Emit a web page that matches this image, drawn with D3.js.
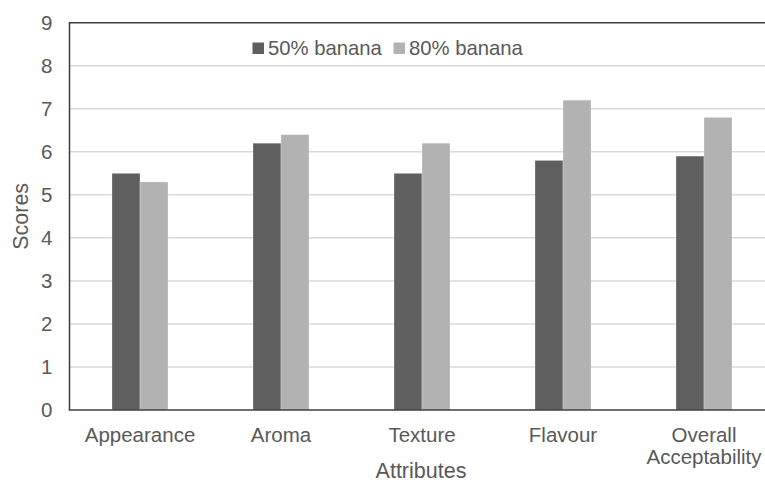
<!DOCTYPE html>
<html>
<head>
<meta charset="utf-8">
<script src="https://cdn.jsdelivr.net/npm/d3@7"></script>
<style>
  html, body { margin: 0; padding: 0; background: #fff; }
  svg { display: block; }
  text { font-family: "Liberation Sans", Arial, sans-serif; fill: #595959; }
</style>
</head>
<body>
<svg id="chart" width="765" height="483"></svg>
<script>
// Sensory scores for the two banana formulations
const categories = ["Appearance", "Aroma", "Texture", "Flavour", "Overall Acceptability"];
const seriesNames = ["50% banana", "80% banana"];
const banana50 = [5.5, 6.2, 5.5, 5.8, 5.9];
const banana80 = [5.3, 6.4, 6.2, 7.2, 6.8];
const yTicks = [0, 1, 2, 3, 4, 5, 6, 7, 8, 9];
const colors = ["#5f5f5f", "#b2b2b2"];

const svg = d3.select("#chart");
const plotLeft = 69.5, plotRight = 774.5, plotTop = 22.7, plotBottom = 410;

const x0 = d3.scaleBand().domain(categories).range([plotLeft, plotRight]).padding(0);
const x1 = d3.scaleBand().domain(seriesNames)
  .range([x0.bandwidth() / 2 - 28, x0.bandwidth() / 2 + 28]).padding(0);
const y = d3.scaleLinear().domain([0, 9]).range([plotBottom, plotTop]);

// horizontal gridlines
svg.append("g")
  .selectAll("line")
  .data(yTicks.filter(t => t > 0 && t < 9))
  .join("line")
  .attr("x1", plotLeft).attr("x2", plotRight)
  .attr("y1", d => y(d)).attr("y2", d => y(d))
  .attr("stroke", "#d9d9d9").attr("stroke-width", 1.5);

// bars
const rows = categories.map((c, i) => ({ cat: c, vals: [banana50[i], banana80[i]] }));
svg.append("g")
  .selectAll("g")
  .data(rows)
  .join("g")
  .attr("transform", d => `translate(${x0(d.cat)},0)`)
  .selectAll("rect")
  .data(d => d.vals.map((v, j) => ({ key: seriesNames[j], v, j })))
  .join("rect")
  .attr("x", d => x1(d.key))
  .attr("width", x1.bandwidth())
  .attr("y", d => y(d.v))
  .attr("height", d => y(0) - y(d.v))
  .attr("fill", d => colors[d.j])
  .attr("stroke", "#ffffff").attr("stroke-opacity", 0.35).attr("stroke-width", 0.8);

// frame lines: left, bottom and top
const frame = svg.append("g").attr("stroke", "#3f3f3f").attr("stroke-width", 1.5);
frame.append("line").attr("x1", plotLeft).attr("x2", plotLeft).attr("y1", plotTop).attr("y2", plotBottom);
frame.append("line").attr("x1", plotLeft - 0.75).attr("x2", plotRight).attr("y1", plotBottom).attr("y2", plotBottom);
frame.append("line").attr("x1", plotLeft - 0.75).attr("x2", plotRight).attr("y1", plotTop).attr("y2", plotTop);

// y axis labels
const yAxis = svg.append("g")
  .attr("transform", `translate(${plotLeft},0)`)
  .call(d3.axisLeft(y).tickValues(yTicks).tickSize(0).tickPadding(17).tickFormat(d3.format("d")));
yAxis.select(".domain").remove();
yAxis.selectAll("text")
  .attr("font-size", 20.5).attr("fill", "#595959")
  .attr("font-family", "Liberation Sans, Arial, sans-serif");

// x axis labels (wrapped onto lines of words)
const xAxis = svg.append("g")
  .attr("transform", `translate(0,${plotBottom})`)
  .call(d3.axisBottom(x0).tickSize(0).tickPadding(0).tickFormat(""));
xAxis.select(".domain").remove();
xAxis.selectAll(".tick").each(function (d) {
  const words = d.split(" ");
  const t = d3.select(this).append("text")
    .attr("text-anchor", "middle")
    .attr("font-size", 20.5)
    .attr("fill", "#595959")
    .attr("font-family", "Liberation Sans, Arial, sans-serif");
  words.forEach((w, i) => {
    t.append("tspan").attr("x", 0).attr("y", 32 + i * 22).text(w);
  });
});

// axis titles
svg.append("text")
  .attr("transform", `translate(28,${(plotTop + plotBottom) / 2}) rotate(-90)`)
  .attr("text-anchor", "middle")
  .attr("font-size", 21.5)
  .text("Scores");
svg.append("text")
  .attr("x", (plotLeft + plotRight) / 2 - 1).attr("y", 478)
  .attr("text-anchor", "middle")
  .attr("font-size", 21.5)
  .text("Attributes");

// legend
const legendPos = [252.5, 393.5];
const legend = svg.append("g");
seriesNames.forEach((s, i) => {
  legend.append("rect")
    .attr("x", legendPos[i]).attr("y", 42.5)
    .attr("width", 11.5).attr("height", 11.5)
    .attr("fill", colors[i]);
  legend.append("text")
    .attr("x", legendPos[i] + 15.5).attr("y", 55)
    .attr("font-size", 20.3)
    .text(s);
});
</script>
</body>
</html>
